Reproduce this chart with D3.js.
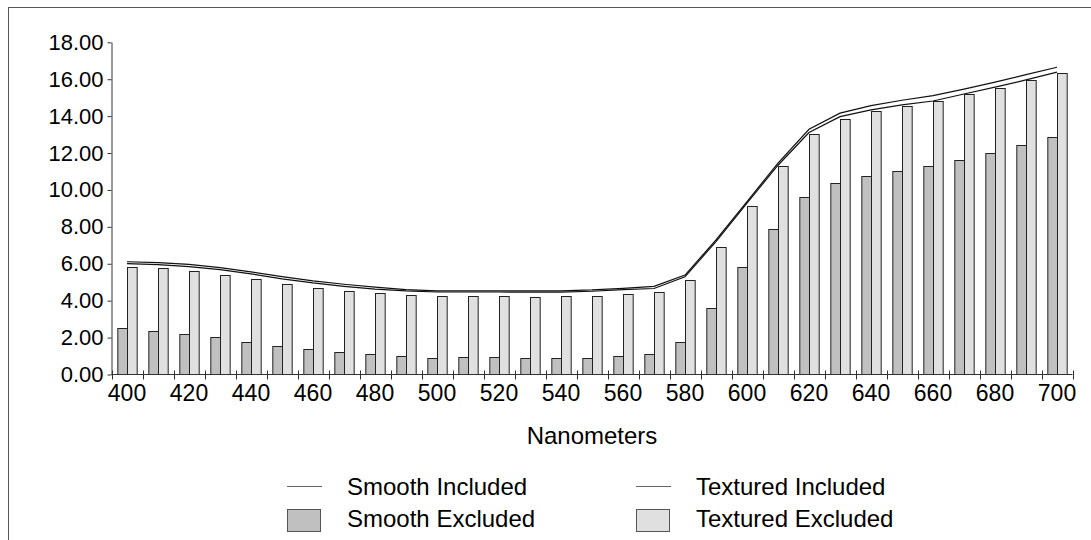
<!DOCTYPE html>
<html>
<head>
<meta charset="utf-8">
<script src="https://cdn.jsdelivr.net/npm/d3@7"></script>
<style>
  html, body { margin: 0; padding: 0; background: #fff; }
  svg { display: block; font-family: "Liberation Sans", Arial, sans-serif; }
</style>
</head>
<body>
<svg id="chart" width="1091" height="540"></svg>
<script>
// ---- Data ----
const categories = [400, 410, 420, 430, 440, 450, 460, 470, 480, 490, 500, 510, 520, 530, 540, 550,
                    560, 570, 580, 590, 600, 610, 620, 630, 640, 650, 660, 670, 680, 690, 700];
const smoothExcluded = [2.50, 2.38, 2.20, 2.01, 1.78, 1.56, 1.36, 1.20, 1.09, 0.98, 0.91, 0.93, 0.95, 0.91, 0.88, 0.91,
                        1.02, 1.09, 1.78, 3.59, 5.81, 7.90, 9.60, 10.36, 10.74, 11.03, 11.28, 11.63, 12.02, 12.44, 12.87];
const texturedExcluded = [5.81, 5.75, 5.63, 5.41, 5.16, 4.90, 4.69, 4.54, 4.40, 4.31, 4.24, 4.24, 4.24, 4.20, 4.23, 4.27,
                          4.38, 4.46, 5.10, 6.93, 9.15, 11.28, 13.02, 13.85, 14.28, 14.57, 14.82, 15.20, 15.55, 15.96, 16.36];
const texturedIncluded = [6.11, 6.06, 5.97, 5.79, 5.56, 5.30, 5.07, 4.89, 4.73, 4.60, 4.53, 4.53, 4.53, 4.53, 4.53, 4.58,
                          4.67, 4.78, 5.39, 7.29, 9.37, 11.45, 13.29, 14.16, 14.57, 14.86, 15.11, 15.46, 15.84, 16.25, 16.65];
const smoothIncluded = [6.01, 5.95, 5.84, 5.68, 5.45, 5.18, 4.96, 4.78, 4.63, 4.53, 4.47, 4.47, 4.47, 4.46, 4.46, 4.51,
                        4.60, 4.66, 5.30, 7.20, 9.28, 11.34, 13.11, 13.97, 14.34, 14.61, 14.82, 15.20, 15.57, 15.96, 16.38];
const yTicks = [0, 2, 4, 6, 8, 10, 12, 14, 16, 18];
const xTickLabels = [400, 420, 440, 460, 480, 500, 520, 540, 560, 580, 600, 620, 640, 660, 680, 700];
const barSeries = ["Smooth Excluded", "Textured Excluded"];
const xTitle = "Nanometers";

// ---- Layout ----
const svg = d3.select("#chart");
const pLeft = 111.5, pRight = 1072.5, pTop = 42.3, pBottom = 374.5;

const x = d3.scaleBand().domain(categories).range([pLeft, pRight]).paddingInner(0.375).paddingOuter(0.1875);
const xs = d3.scaleBand().domain(barSeries).range([0, x.bandwidth()]);
const y = d3.scaleLinear().domain([0, 18]).range([pBottom, pTop]);
const color = d3.scaleOrdinal().domain(barSeries).range(["#c0c0c0", "#e0e0e0"]);

// frame
svg.append("rect").attr("x", 8.5).attr("y", 7.5).attr("width", 1200).attr("height", 700)
  .attr("fill", "none").attr("stroke", "#555").attr("stroke-width", 1);

// bars
const rows = categories.map((c, i) => ({ c, vals: [smoothExcluded[i], texturedExcluded[i]] }));
const groups = svg.append("g").selectAll("g").data(rows).join("g")
  .attr("transform", d => `translate(${x(d.c)},0)`);
groups.selectAll("rect").data(d => d.vals.map((v, k) => ({ key: barSeries[k], v })))
  .join("rect")
  .attr("x", d => xs(d.key) + 0.5)
  .attr("y", d => Math.round(y(d.v)) + 0.5)
  .attr("width", xs.bandwidth())
  .attr("height", d => pBottom - Math.round(y(d.v)) - 0.5)
  .attr("fill", d => color(d.key))
  .attr("stroke", "#222")
  .attr("stroke-width", 1);

// lines
const line = d3.line().x((d, i) => x(categories[i]) + x.bandwidth() / 2).y(d => y(d)).curve(d3.curveLinear);
[texturedIncluded, smoothIncluded].forEach(series => {
  svg.append("path").datum(series).attr("d", line)
    .attr("fill", "none").attr("stroke", "#111").attr("stroke-width", 1.2);
});

// y axis
const yAxis = svg.append("g").attr("transform", `translate(${pLeft},0)`)
  .call(d3.axisLeft(y).tickValues(yTicks).tickFormat(d3.format(".2f")).tickSize(4).tickSizeOuter(0).tickPadding(4));
yAxis.select(".domain").attr("stroke", "#333");
yAxis.selectAll(".tick line").attr("stroke", "#333");
yAxis.selectAll("text").attr("font-size", 22).attr("fill", "#000")
  .attr("font-family", "'Liberation Sans', Arial, sans-serif");

// x axis
const xAxisG = svg.append("g");
xAxisG.append("line").attr("x1", pLeft).attr("x2", pRight).attr("y1", pBottom).attr("y2", pBottom)
  .attr("stroke", "#333");
const step = x.step();
const boundaries = d3.range(categories.length + 1).map(i => pLeft + i * step);
xAxisG.selectAll("line.tk").data(boundaries).join("line").attr("class", "tk")
  .attr("x1", d => Math.round(d) + 0.5).attr("x2", d => Math.round(d) + 0.5)
  .attr("y1", pBottom - 4).attr("y2", pBottom + 5).attr("stroke", "#333");
const xAxis = svg.append("g").attr("transform", `translate(0,${pBottom})`)
  .call(d3.axisBottom(x).tickValues(xTickLabels).tickSize(0).tickPadding(10));
xAxis.select(".domain").remove();
xAxis.selectAll("text").attr("font-size", 23).attr("fill", "#000")
  .attr("font-family", "'Liberation Sans', Arial, sans-serif");

// x title
svg.append("text").attr("x", (pLeft + pRight) / 2).attr("y", 444)
  .attr("text-anchor", "middle").attr("font-size", 24).attr("fill", "#000").text(xTitle);

// legend
const legendItems = [
  { label: "Smooth Included", type: "line", col: 0, row: 0 },
  { label: "Textured Included", type: "line", col: 1, row: 0 },
  { label: "Smooth Excluded", type: "rect", col: 0, row: 1, fill: color("Smooth Excluded") },
  { label: "Textured Excluded", type: "rect", col: 1, row: 1, fill: color("Textured Excluded") }
];
const colX = [287, 636], rowBase = [495, 527];
const lg = svg.append("g");
legendItems.forEach(it => {
  const x0 = colX[it.col], base = rowBase[it.row];
  if (it.type === "line") {
    lg.append("line").attr("x1", x0).attr("x2", x0 + 35).attr("y1", base - 8.5).attr("y2", base - 8.5)
      .attr("stroke", "#666").attr("stroke-width", 1);
  } else {
    lg.append("rect").attr("x", x0 + 0.5).attr("y", base - 17.5).attr("width", 33).attr("height", 22)
      .attr("fill", it.fill).attr("stroke", "#555");
  }
  lg.append("text").attr("x", x0 + 60).attr("y", base).attr("font-size", 24).attr("fill", "#000").text(it.label);
});
</script>
</body>
</html>
